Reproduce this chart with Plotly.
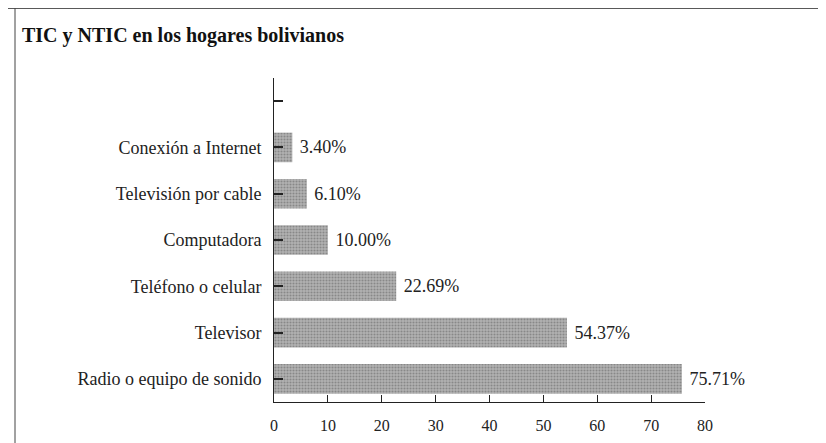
import plotly.graph_objects as go

categories = ["Radio o equipo de sonido", "Televisor", "Teléfono o celular",
              "Computadora", "Televisión por cable", "Conexión a Internet", " "]
values = [75.71, 54.37, 22.69, 10.00, 6.10, 3.40, None]
value_labels = ["75.71%", "54.37%", "22.69%", "10.00%", "6.10%", "3.40%", ""]
x_ticks = [0, 10, 20, 30, 40, 50, 60, 70, 80]

serif = "Liberation Serif, Times New Roman, serif"

# the page body adds an 8px offset; layout numbers below compensate for it
L, R, T, B = 266, 129, 70, 49
PW, PH = 826 - L - R, 443 - T - B

fig = go.Figure(go.Bar(
    y=categories, x=values, orientation="h",
    text=value_labels, texttemplate=" %{text}",
    textposition="outside", cliponaxis=False,
    textfont=dict(family=serif, size=18, color="#222"),
    marker=dict(color="#a0a0a0", line=dict(width=0),
                pattern=dict(shape=".", bgcolor="#b2b2b2", fgcolor="#5e5e5e",
                             size=3, solidity=0.4)),
    width=0.64,
))

fig.update_layout(
    width=826, height=443,
    margin=dict(l=L, r=R, t=T, b=B),
    paper_bgcolor="white", plot_bgcolor="white",
    showlegend=False,
    title=dict(text="<b>TIC y NTIC en los hogares bolivianos</b>",
               x=14/826, xanchor="left", y=1-27/443, yanchor="middle",
               font=dict(family=serif, size=20, color="#111")),
    xaxis=dict(range=[0, 80], tickvals=x_ticks, ticks="inside", ticklen=7,
               tickcolor="#222", showline=True, linecolor="#222", linewidth=1,
               showgrid=False, zeroline=False, ticklabelstandoff=9,
               tickfont=dict(family=serif, size=16, color="#222")),
    yaxis=dict(type="category", categoryorder="array", categoryarray=categories,
               range=[-0.5, 6.5], ticks="inside", ticklen=9, tickwidth=1.5,
               tickcolor="#222", showline=True, linecolor="#222", linewidth=1,
               showgrid=False, ticklabelstandoff=8,
               tickfont=dict(family=serif, size=18, color="#222")),
    shapes=[
        dict(type="line", xref="paper", yref="paper",
             x0=(0 - L) / PW, x1=(826 - L) / PW, y0=1 + T / PH, y1=1 + T / PH,
             line=dict(color="#222", width=1.5)),
        dict(type="line", xref="paper", yref="paper",
             x0=(7 - L) / PW, x1=(7 - L) / PW, y0=1 + T / PH, y1=-B / PH,
             line=dict(color="#444", width=1)),
    ],
)

fig.write_html("out.html")
